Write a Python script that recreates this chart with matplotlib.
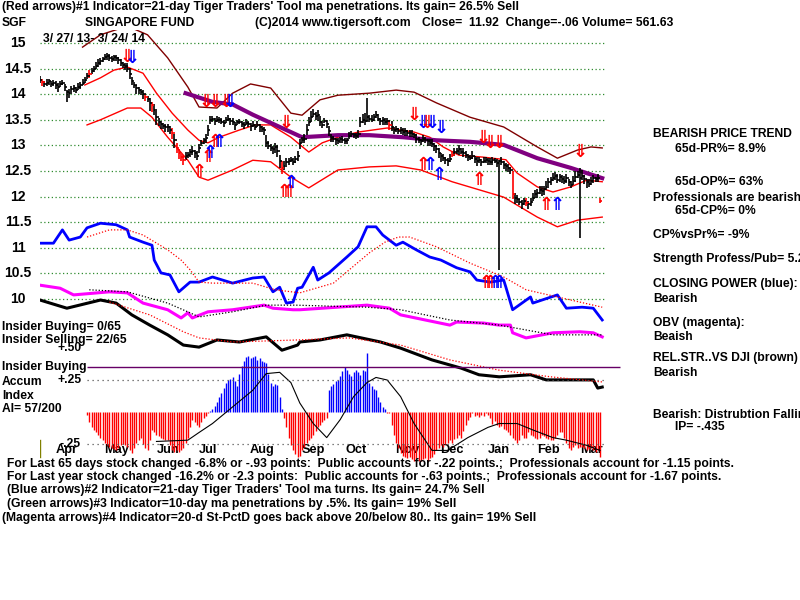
import matplotlib
matplotlib.use("Agg")
import numpy as np
import matplotlib.pyplot as plt
from matplotlib.transforms import blended_transform_factory

# daily bars 3/27/13 .. 3/24/14 (day index 0..250)
close = [
    14.27, 14.24, 14.20, 14.22, 14.25, 14.20, 14.22, 14.18, 14.15, 14.20,
    14.22, 14.14, 14.05, 14.02, 14.10, 14.12, 14.08, 14.15, 14.18, 14.22,
    14.28, 14.35, 14.40, 14.45, 14.50, 14.55, 14.60, 14.65, 14.68, 14.72,
    14.75, 14.70, 14.68, 14.72, 14.70, 14.66, 14.60, 14.58, 14.55, 14.50,
    14.40, 14.25, 14.18, 14.12, 14.08, 14.05, 14.00, 13.95, 13.90, 13.82,
    13.78, 13.70, 13.55, 13.45, 13.42, 13.38, 13.35, 13.36, 13.30, 13.24,
    13.10, 12.95, 12.85, 12.78, 12.72, 12.80, 12.82, 12.88, 12.90, 12.85,
    12.80, 12.95, 13.05, 13.10, 13.15, 13.30, 13.50, 13.52, 13.48, 13.50,
    13.50, 13.46, 13.44, 13.50, 13.52, 13.48, 13.46, 13.40, 13.45, 13.46,
    13.42, 13.40, 13.44, 13.42, 13.38, 13.40, 13.36, 13.40, 13.35, 13.32,
    13.30, 13.05, 12.98, 12.95, 12.92, 12.96, 12.90, 12.70, 12.55, 12.60,
    12.68, 12.70, 12.72, 12.68, 12.74, 12.80, 13.05, 13.10, 13.12, 13.30,
    13.45, 13.55, 13.62, 13.58, 13.60, 13.45, 13.40, 13.48, 13.42, 13.28,
    13.15, 13.12, 13.10, 13.08, 13.12, 13.10, 13.08, 13.10, 13.18, 13.22,
    13.20, 13.18, 13.22, 13.45, 13.50, 13.48, 13.55, 13.52, 13.50, 13.56,
    13.60, 13.52, 13.48, 13.50, 13.45, 13.48, 13.40, 13.35, 13.30, 13.32,
    13.28, 13.30, 13.26, 13.28, 13.25, 13.24, 13.22, 13.20, 13.12, 13.10,
    13.08, 13.12, 13.10, 13.08, 13.05, 13.02, 12.98, 12.92, 12.85, 12.80,
    12.76, 12.72, 12.70, 12.74, 12.82, 12.88, 12.90, 12.92, 12.88, 12.85,
    12.82, 12.78, 12.76, 12.80, 12.74, 12.70, 12.72, 12.68, 12.70, 12.72,
    12.70, 12.68, 12.72, 12.70, 12.66, 12.70, 12.68, 12.62, 12.60, 12.55,
    12.52, 12.05, 11.98, 11.95, 11.90, 11.85, 11.92, 11.88, 11.85, 11.90,
    11.98, 12.05, 12.08, 12.12, 12.10, 12.14, 12.18, 12.28, 12.32, 12.36,
    12.40, 12.32, 12.38, 12.35, 12.30, 12.36, 12.28, 12.22, 12.30, 12.38,
    12.42, 12.36, 12.40, 12.35, 12.28, 12.25, 12.30, 12.36, 12.34, 12.36,
    11.92]
# bar high / low distance from close, in cents
up = [
    8, 6, 5, 7, 4, 6, 5, 8, 6, 5,  6, 5, 4, 8, 6, 5, 7, 6, 5, 8,
    6, 7, 8, 6, 5, 7, 8, 6, 5, 6,  5, 8, 6, 4, 7, 6, 8, 5, 6, 10,
    12, 8, 6, 5, 7, 6, 8, 5, 6, 10,  6, 10, 12, 8, 6, 5, 7, 6, 8, 10,
    12, 10, 8, 6, 10, 8, 6, 5, 8, 6,  10, 8, 6, 5, 8, 10, 8, 6, 5, 7,
    6, 8, 5, 6, 7, 5, 8, 6, 5, 6,  5, 6, 8, 5, 6, 7, 5, 8, 6, 5,
    6, 15, 10, 8, 6, 8, 10, 12, 15, 10,  8, 6, 5, 8, 6, 10, 8, 6, 10, 12,
    10, 12, 10, 8, 10, 12, 8, 6, 8, 10,  8, 6, 5, 6, 5, 8, 6, 5, 8, 6,
    5, 6, 8, 10, 12, 15, 38, 8, 10, 6,  8, 10, 6, 5, 8, 6, 10, 12, 5, 6,
    6, 5, 8, 6, 5, 6, 8, 5, 10, 6,  5, 8, 6, 5, 8, 10, 6, 8, 10, 6,
    8, 6, 5, 10, 8, 6, 5, 8, 6, 10,  8, 6, 5, 10, 6, 8, 5, 6, 8, 5,
    6, 8, 5, 6, 8, 2, 10, 8, 6, 8,  6, 45, 10, 8, 6, 8, 5, 10, 6, 8,
    10, 8, 6, 8, 10, 6, 12, 8, 6, 10,  8, 12, 6, 8, 10, 8, 6, 8, 10, 12,
    8, 20, 12, 8, 6, 10, 8, 6, 5, 8,  6]
dn = [
    6, 8, 5, 6, 8, 5, 6, 7, 10, 6,  5, 8, 20, 10, 6, 8, 5, 6, 7, 5,
    6, 5, 8, 6, 7, 5, 6, 8, 5, 6,  8, 6, 5, 8, 6, 7, 5, 6, 8, 6,
    10, 8, 6, 12, 8, 6, 10, 8, 6, 15,  12, 10, 15, 8, 10, 6, 8, 10, 8, 12,
    15, 10, 12, 8, 10, 8, 6, 10, 8, 10,  8, 10, 6, 8, 10, 12, 8, 6, 8, 5,
    6, 5, 8, 6, 5, 8, 6, 10, 6, 5,  6, 8, 5, 6, 10, 5, 6, 5, 8, 6,
    10, 8, 6, 5, 8, 10, 12, 15, 10, 8,  6, 8, 5, 6, 8, 10, 12, 6, 8, 10,
    8, 10, 6, 8, 12, 8, 6, 5, 8, 10,  8, 6, 10, 6, 8, 5, 6, 8, 6, 5,
    6, 5, 8, 10, 6, 8, 10, 6, 5, 8,  6, 5, 8, 10, 6, 8, 10, 6, 8, 5,
    6, 8, 5, 10, 6, 8, 5, 6, 8, 6,  8, 6, 5, 10, 6, 5, 8, 6, 10, 12,
    6, 8, 10, 6, 5, 8, 6, 10, 5, 8,  6, 8, 5, 6, 8, 10, 6, 8, 5, 6,
    8, 6, 10, 5, 8, 213, 6, 8, 10, 6,  8, 10, 12, 8, 6, 10, 8, 6, 10, 8,
    6, 8, 10, 6, 8, 10, 6, 8, 10, 6,  8, 6, 10, 8, 6, 10, 8, 6, 8, 10,
    6, 116, 8, 10, 12, 6, 8, 10, 6, 8,  5]
red_bars = [1, 22, 47, 50, 59, 61, 62, 63, 64, 108, 156, 184, 211, 217, 250]

# bands and moving averages (day, value)
mid_days = [20, 27, 33, 39, 46, 52, 59, 66, 71, 75, 80, 89, 96, 103, 112, 120,
            126, 133, 142, 155, 167, 174, 180, 187, 198, 208, 213, 222, 229, 237, 244, 251]
mid_vals = [14.18, 14.32, 14.47, 14.53, 14.41, 14.02, 13.63, 13.30, 13.10, 13.05, 13.16,
            13.30, 13.40, 13.40, 13.16, 12.87, 13.05, 13.16, 13.26, 13.34, 13.26, 13.16,
            12.97, 12.81, 12.77, 12.72, 12.46, 12.19, 12.09, 12.19, 12.32, 12.29]
low_days = [21, 27, 39, 45, 50, 57, 66, 71, 75, 86, 95, 103, 112, 120, 133, 147,
            159, 170, 184, 207, 222, 231, 240, 251]
low_vals = [13.40, 13.50, 13.73, 13.73, 13.55, 13.16, 12.71, 12.38, 12.32, 12.52, 12.71,
            12.68, 12.38, 12.17, 12.52, 12.58, 12.60, 12.52, 12.29, 11.99, 11.60, 11.41,
            11.54, 11.60]
upb_days = [19, 27, 39, 48, 57, 66, 71, 79, 86, 94, 103, 112, 117, 125, 133, 147,
            159, 167, 177, 192, 207, 222, 231, 240, 246, 251]
upb_vals = [14.92, 15.16, 15.33, 15.16, 14.71, 14.14, 13.75, 13.73, 14.02, 14.20, 14.12,
            13.63, 13.59, 13.89, 13.98, 14.02, 14.08, 14.04, 13.83, 13.55, 13.36, 12.97,
            12.75, 12.91, 12.97, 12.95]
ma65_days = [65, 77, 86, 95, 103, 117, 133, 147, 162, 177, 192, 207, 222, 237, 251]
ma65_vals = [14.02, 13.85, 13.80, 13.60, 13.44, 13.16, 13.20, 13.20, 13.16, 13.10,
             13.07, 13.01, 12.75, 12.56, 12.36]

# closing power (blue) + ma, drawn on the price scale
cp_days = [0, 1, 6, 10, 13, 18, 21, 27, 34, 39, 40, 46, 50, 51, 54, 58, 62, 67, 71, 77,
           86, 95, 100, 104, 107, 110, 113, 115, 117, 122, 124, 129, 137, 142, 146, 150,
           153, 159, 162, 168, 174, 179, 186, 192, 195, 201, 207, 208, 211, 219, 220,
           231, 235, 242, 247, 251]
cp_vals = [11.09, 11.09, 11.09, 11.35, 11.15, 11.21, 11.39, 11.48, 11.45, 11.35, 11.21,
           11.11, 11.05, 10.76, 10.51, 10.47, 10.14, 10.33, 10.33, 10.43, 10.31, 10.41,
           10.43, 10.14, 10.23, 9.92, 9.94, 10.21, 10.23, 10.62, 10.37, 10.51, 10.82,
           11.02, 11.41, 11.41, 11.25, 11.05, 11.11, 10.96, 10.82, 10.76, 10.61, 10.53,
           10.37, 10.33, 10.37, 10.23, 9.79, 10.04, 9.92, 10.08, 9.82, 9.84, 9.82, 9.59]
cpma_days = [21, 31, 39, 46, 57, 63, 67, 71, 77, 95, 105, 116, 131, 147, 154, 160, 165,
             177, 192, 207, 217, 231, 251]
cpma_vals = [11.21, 11.35, 11.35, 11.25, 10.96, 10.76, 10.57, 10.33, 10.31, 10.31, 10.18,
             10.12, 10.31, 10.90, 11.11, 11.21, 11.21, 11.02, 10.70, 10.43, 10.18, 10.04, 9.84]

# OBV (magenta) + ma
obv_days = [0, 9, 15, 31, 39, 46, 57, 63, 66, 68, 75, 86, 100, 104, 113, 116, 146, 156,
            161, 183, 186, 198, 205, 210, 211, 217, 229, 241, 247, 251]
obv_vals = [10.27, 10.21, 10.08, 10.14, 10.12, 9.92, 9.79, 9.63, 9.73, 9.63, 9.75, 9.79,
            9.88, 9.82, 9.79, 9.79, 9.88, 9.82, 9.69, 9.49, 9.55, 9.53, 9.49, 9.49, 9.34,
            9.24, 9.34, 9.36, 9.34, 9.26]
obvma_days = [22, 39, 57, 67, 71, 86, 101, 114, 146, 161, 183, 205, 229, 251]
obvma_vals = [10.18, 10.14, 9.92, 9.73, 9.65, 9.75, 9.88, 9.88, 9.84, 9.79, 9.59, 9.49,
              9.30, 9.30]

# relative strength vs DJI (black) + ma
rs_days = [0, 12, 27, 34, 41, 49, 57, 64, 71, 79, 89, 101, 108, 115, 116, 125, 137, 152,
           161, 175, 188, 196, 205, 219, 226, 235, 247, 249, 251]
rs_vals = [9.98, 9.82, 9.98, 9.92, 9.69, 9.49, 9.30, 9.10, 9.06, 9.20, 9.16, 9.26, 9.00,
           9.10, 9.16, 9.20, 9.30, 9.16, 9.04, 8.81, 8.65, 8.52, 8.48, 8.52, 8.42, 8.42,
           8.42, 8.26, 8.28]
rsma_days = [31, 49, 64, 71, 86, 115, 138, 161, 183, 205, 228, 251]
rsma_vals = [9.94, 9.69, 9.36, 9.24, 9.16, 9.20, 9.24, 9.10, 8.81, 8.61, 8.48, 8.38]

# accumulation index, daily from day 21
ai_start = 21
ai = [
    -0.02, -0.08, -0.12, -0.14, -0.16, -0.18, -0.20, -0.22, -0.24, -0.26,
    -0.27, -0.28, -0.29, -0.30, -0.28, -0.26, -0.25, -0.26, -0.27, -0.30,
    -0.32, -0.28, -0.24, -0.22, -0.20, -0.25, -0.28, -0.30, -0.22, -0.14,
    -0.16, -0.18, -0.19, -0.20, -0.21, -0.22, -0.22, -0.26, -0.30, -0.31,
    -0.30, -0.31, -0.30, -0.28, -0.24, -0.20, -0.12, -0.06, -0.08, -0.10,
    -0.12, -0.08, -0.05, -0.03, -0.01, 0.01, 0.02, 0.05, 0.08, 0.12,
    0.15, 0.19, 0.23, 0.25, 0.26, 0.27, 0.24, 0.20, 0.30, 0.36,
    0.40, 0.43, 0.44, 0.42, 0.43, 0.44, 0.41, 0.42, 0.40, 0.39,
    0.38, 0.30, 0.23, 0.20, 0.22, 0.21, 0.12, 0.02, -0.05, -0.12,
    -0.20, -0.26, -0.30, -0.33, -0.35, -0.34, -0.30, -0.27, -0.24, -0.22,
    -0.20, -0.18, -0.15, -0.12, -0.10, -0.08, -0.06, -0.05, 0.17, 0.20,
    0.22, 0.24, 0.25, 0.28, 0.32, 0.35, 0.33, 0.30, 0.28, 0.31,
    0.33, 0.31, 0.29, 0.33, 0.32, 0.46, 0.23, 0.20, 0.18, 0.17,
    0.12, 0.08, 0.04, 0.02, -0.01, -0.01, -0.10, -0.18, -0.24, -0.28,
    -0.32, -0.34, -0.35, -0.36, -0.35, -0.37, -0.38, -0.36, -0.38, -0.38,
    -0.37, -0.36, -0.38, -0.36, -0.35, -0.33, -0.30, -0.28, -0.26, -0.27,
    -0.25, -0.24, -0.22, -0.24, -0.21, -0.20, -0.18, -0.20, -0.15, -0.10,
    -0.06, -0.04, -0.01, -0.03, -0.02, -0.04, -0.02, -0.03, -0.01, -0.02,
    -0.05, -0.09, -0.07, -0.10, -0.12, -0.11, -0.13, -0.14, -0.16, -0.18,
    -0.20, -0.22, -0.24, -0.22, -0.18, -0.20, -0.20, -0.16, -0.18, -0.19,
    -0.20, -0.21, -0.20, -0.18, -0.19, -0.20, -0.21, -0.22, -0.22, -0.20,
    -0.18, -0.16, -0.16, -0.20, -0.24, -0.28, -0.30, -0.27, -0.26, -0.28,
    -0.27, -0.27, -0.28, -0.30, -0.29, -0.28, -0.30, -0.31, -0.30, -0.35]
aima_days = [52, 66, 71, 77, 86, 95, 101, 107, 112, 116, 122, 128, 134, 140, 146, 150,
             155, 161, 167, 175, 182, 191, 200, 205, 213, 220, 229, 235, 244, 250]
aima_vals = [-0.23, -0.22, -0.16, -0.09, 0.04, 0.17, 0.30, 0.31, 0.23, 0.07, -0.09, -0.20,
             -0.06, 0.12, 0.23, 0.27, 0.25, 0.12, -0.09, -0.30, -0.30, -0.20, -0.12, -0.09,
             -0.09, -0.14, -0.20, -0.22, -0.26, -0.30]
insider_level = 0.35

# signal arrows
dn_arrow_days = [39, 41, 74, 78, 83, 85, 110, 167, 171, 173, 175, 179, 198, 201, 205, 241]
dn_arrow_px = [14.73, 14.71, 13.85, 13.85, 13.85, 13.85, 13.44, 13.59, 13.44, 13.44,
               13.44, 13.34, 13.14, 13.05, 13.05, 12.87]
dn_arrow_col = ['r', 'b', 'r', 'r', 'r', 'b', 'r', 'r', 'b', 'r', 'b', 'b', 'r', 'r', 'r', 'r']
up_arrow_days = [71, 75, 76, 78, 80, 109, 111, 112, 171, 174, 178, 196, 226, 231,
                 199, 201, 203, 205]
up_arrow_px = [12.48, 12.77, 12.85, 13.07, 13.07, 12.09, 12.09, 12.27, 12.62, 12.62,
               12.42, 12.32, 11.84, 11.84, 10.31, 10.31, 10.31, 10.31]
up_arrow_col = ['r', 'r', 'b', 'r', 'b', 'r', 'r', 'b', 'r', 'b', 'b', 'r', 'r', 'b',
                'r', 'r', 'b', 'b']

price_ticks = [15, 14.5, 14, 13.5, 13, 12.5, 12, 11.5, 11, 10.5, 10]
price_labels = ['15', '14.5', '14', '13.5', '13', '12.5', '12', '11.5', '11', '10.5', '10']
ai_ticks = [0.5, 0.25, -0.25]
ai_labels = ['+.50', '+.25', '-.25']
month_days = [12, 34, 57, 75, 99, 122, 141, 164, 184, 205, 227, 246]
months = ['Apr', 'May', 'Jun', 'Jul', 'Aug', 'Sep', 'Oct', 'Nov', 'Dec', 'Jan', 'Feb', 'Mar']

FONT = ['Liberation Sans', 'DejaVu Sans']
plt.rcParams['font.family'] = FONT
FS = 8.7

fig = plt.figure(figsize=(8, 6), dpi=100)
W, H = 800, 600


def ftext(x, y, s, **kw):
    # place text by pixel position of the original screen
    kw.setdefault('fontsize', FS)
    kw.setdefault('fontweight', 'bold')
    kw.setdefault('va', 'center')
    fig.text(x / W, 1 - y / H, s, **kw)


# main axes: x in trading days, y in price
ax = fig.add_axes([40 / W, 1 - 470 / H, 600.3 / W, 440 / H])
ax.set_xlim(0, 268)
ax.set_ylim(6.660, 15.254)
ax.axis('off')
ax2 = fig.add_axes(ax.get_position(), sharex=ax)
ax2.set_ylim(-0.453, 2.984)
ax2.axis('off')
ax2.patch.set_alpha(0)

# grid
ax.hlines(price_ticks, 0, 252, colors='#2e8b2e', linestyles=(0, (1, 2)), lw=0.9)
ylab = blended_transform_factory(fig.transFigure, ax.transData)
for t, s in zip(price_ticks, price_labels):
    ax.text(18 / W, t, s, transform=ylab, ha='center', va='center',
            fontsize=10, fontweight='bold')

# indicator lines
ax.plot(rs_days, rs_vals, color='black', lw=2.2)
ax.plot(rsma_days, rsma_vals, color='red', lw=0.9, ls=(0, (1, 1.5)))
ax.plot(obv_days, obv_vals, color='#ff00ff', lw=2.2)
ax.plot(obvma_days, obvma_vals, color='black', lw=0.9, ls=(0, (1, 1.5)))
ax.plot(cp_days, cp_vals, color='#0000ff', lw=2)
ax.plot(cpma_days, cpma_vals, color='red', lw=0.9, ls=(0, (1, 1.5)))

# bands
ax.plot(upb_days, upb_vals, color='#800000', lw=1)
ax.plot(mid_days, mid_vals, color='red', lw=1)
ax.plot(low_days, low_vals, color='red', lw=1)
ax.plot(ma65_days, ma65_vals, color='#800080', lw=3)

# price bars
days = np.arange(len(close))
c = np.array(close)
hi = c + np.array(up) / 100
lo = c - np.array(dn) / 100
cols = ['red' if d in red_bars else 'black' for d in days]
ax.vlines(days, lo, hi, colors=cols, lw=1.2)
ax.hlines(c, days, days + 1.1, colors=cols, lw=1.2)

# arrows
cmap = {'r': 'red', 'b': '#0000ff'}
for d, p, k in zip(dn_arrow_days, dn_arrow_px, dn_arrow_col):
    ax.text(d, p, '\u21d3', color=cmap[k], ha='center', va='center', fontsize=13,
            fontweight='bold', family='DejaVu Sans')
for d, p, k in zip(up_arrow_days, up_arrow_px, up_arrow_col):
    ax.text(d, p, '\u21d1', color=cmap[k], ha='center', va='center', fontsize=13,
            fontweight='bold', family='DejaVu Sans')

# accumulation index histogram
ai_days = np.arange(ai_start, ai_start + len(ai))
ai_v = np.array(ai)
ax2.vlines(ai_days, 0, ai_v, colors=np.where(ai_v >= 0, '#0000ff', 'red'), lw=1)
ax2.plot(aima_days, aima_vals, color='black', lw=0.8)
ax2.hlines([0.25, -0.25], ai_start, 252, colors='#555555', linestyles=(0, (1, 3)), lw=0.9)
ax2.hlines(insider_level, ai_start, 259, colors='#660066', lw=1)
for t, s in zip(ai_ticks, ai_labels):
    ax2.text(70 / W, t, s, transform=blended_transform_factory(fig.transFigure, ax2.transData),
             ha='center', va='center', fontsize=FS, fontweight='bold')
mtr = blended_transform_factory(ax.transData, fig.transFigure)
for d, m in zip(month_days, months):
    ax.text(d, 1 - 450 / H, m, transform=mtr, ha='center', va='center',
            fontsize=FS + 0.5, fontweight='bold')
ax.plot([0, 0], [1 - 440 / H, 1 - 457 / H], transform=mtr, color='#808000', lw=1)

# header
ftext(2, 7, "(Red arrows)#1 Indicator=21-day Tiger Traders' Tool ma penetrations. Its gain= 26.5% Sell")
ftext(2, 23, "SGF")
ftext(85, 23, "SINGAPORE FUND")
ftext(255, 23, "(C)2014 www.tigersoft.com")
ftext(422, 23, "Close=  11.92  Change=-.06 Volume= 561.63")
ftext(43, 39, "3/ 27/ 13- 3/ 24/ 14")

# left notes
ftext(2, 327, "Insider Buying= 0/65")
ftext(2, 340, "Insider Selling= 22/65")
ftext(2, 367, "Insider Buying")
ftext(2, 382, "Accum")
ftext(2, 396, "Index")
ftext(2, 409, "AI= 57/200")

# right notes
for x, y, s in [(653, 134, "BEARISH PRICE TREND"), (675, 149, "65d-PR%= 8.9%"),
                (675, 182, "65d-OP%= 63%"), (653, 198, "Professionals are bearish"),
                (675, 211, "65d-CP%= 0%"), (653, 235, "CP%vsPr%= -9%"),
                (653, 259, "Strength Profess/Pub= 5.2"), (653, 284, "CLOSING POWER (blue):"),
                (653, 299, "Bearish"), (653, 323, "OBV (magenta):"), (653, 337, "Beaish"),
                (653, 358, "REL.STR..VS DJI (brown)"), (653, 373, "Bearish"),
                (653, 415, "Bearish: Distrubtion Falling"), (675, 427, "IP= -.435")]:
    ftext(x, y, s)

# bottom notes
ftext(7, 464, "For Last 65 days stock changed -6.8% or -.93 points:  Public accounts for -.22 points.;  Professionals account for -1.15 points.")
ftext(7, 477, "For Last year stock changed -16.2% or -2.3 points:  Public accounts for -.63 points.;  Professionals account for -1.67 points.")
ftext(7, 490, "(Blue arrows)#2 Indicator=21-day Tiger Traders' Tool ma turns. Its gain= 24.7% Sell")
ftext(7, 504, "(Green arrows)#3 Indicator=10-day ma penetrations by .5%. Its gain= 19% Sell")
ftext(2, 518, "(Magenta arrows)#4 Indicator=20-d St-PctD goes back above 20/below 80.. Its gain= 19% Sell")

fig.savefig("out.png", dpi=100)
